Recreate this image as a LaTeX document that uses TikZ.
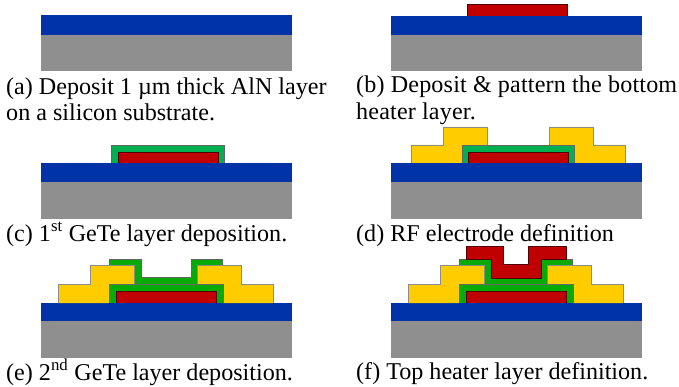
\documentclass[tikz,border=0pt]{standalone}
\usepackage{fontspec}
\setmainfont{Liberation Serif}
\tikzset{
    substrate/.style={fill={rgb,255:red,143;green,143;blue,143}},
    aln/.style={fill={rgb,255:red,0;green,51;blue,168}},
    heater/.style={fill={rgb,255:red,192;green,0;blue,0},draw=black!55!red!70!black,line width=.6pt},
    gete/.style={fill={rgb,255:red,0;green,176;blue,80},draw=black!60,line width=.6pt},
    getetwo/.style={fill={rgb,255:red,8;green,170;blue,8},draw=black!60,line width=.6pt},
    electrode/.style={fill={rgb,255:red,255;green,204;blue,0},draw=black!45,line width=.6pt},
    caption/.style={anchor=base west,inner sep=0pt,font=\fontsize{24.1}{27}\selectfont},
}
\begin{document}
\begin{tikzpicture}[x=1pt,y=-1pt]
    \useasboundingbox (0,0) rectangle (679,387);

    % substrate and AlN of each step
    \foreach \x/\yblue/\ygray/\ybot in {41/15/35/71, 391/16/35/71, 41/163/182/219, 391/163/182/219, 41/303/321/358, 391/303/321/358} {
        \fill[substrate] (\x,\ygray) rectangle +(251,\ybot-\ygray);
        \fill[aln] (\x,\yblue) rectangle +(251,\ygray-\yblue);
    }

    % (b)
    \draw[heater] (467,16) -- (467,4) -- (567,4) -- (567,16);

    % (c)
    \draw[gete] (111,163) -- (111,145) -- (224,145) -- (224,163);
    \draw[heater] (118,163) -- (118,152) -- (218,152) -- (218,163);

    % (d)
    \draw[electrode] (411,163) -- (411,145) -- (443,145) -- (443,127) -- (487,127) -- (487,145) -- (462,145) -- (462,163);
    \draw[electrode] (574,163) -- (574,145) -- (549,145) -- (549,127) -- (593,127) -- (593,145) -- (625,145) -- (625,163);
    \draw[gete] (462,163) -- (462,145) -- (574,145) -- (574,163);
    \draw[heater] (468,163) -- (468,152) -- (568,152) -- (568,163);

    % (e) and (f)
    \foreach \x in {0,350} {
        \begin{scope}[xshift=\x pt]
            \draw[getetwo] (109,259) -- (141,259) -- (141,277) -- (191,277) -- (191,259) -- (222,259) -- (222,265) -- (197,265) -- (197,284) -- (134,284) -- (134,265) -- (109,265) -- cycle;
            \draw[electrode] (58,303) -- (58,284) -- (90,284) -- (90,265) -- (134,265) -- (134,284) -- (109,284) -- (109,303);
            \draw[electrode] (223,303) -- (223,284) -- (197,284) -- (197,265) -- (241,265) -- (241,284) -- (273,284) -- (273,303);
            \draw[getetwo] (109,303) -- (109,284) -- (223,284) -- (223,303);
            \draw[heater] (116,303) -- (116,291) -- (216,291) -- (216,303);
        \end{scope}
    }
    \draw[heater] (466,259) -- (466,246) -- (503,246) -- (503,264) -- (528,264) -- (528,246) -- (566,246) -- (566,259) -- (541,259) -- (541,278) -- (491,278) -- (491,259) -- cycle;

    \node[caption] (capa) at (6,95) {(a) Deposit 1 µm thick AlN layer};
    \node[caption] (capaa) at (6,121) {on a silicon substrate.};
    \node[caption] (capb) at (356,93) {\addfontfeature{LetterSpace=0.7}(b) Deposit \& pattern the bottom};
    \node[caption] (capbb) at (356,120) {\addfontfeature{LetterSpace=0.7}heater layer.};
    \node[caption] (capc) at (6,241) {(c) 1\textsuperscript{st} GeTe layer deposition.};
    \node[caption] (capd) at (356,241) {(d) RF electrode definition};
    \node[caption] (cape) at (6,380) {(e) 2\textsuperscript{nd} GeTe layer deposition.};
    \node[caption] (capf) at (356,379) {(f) Top heater layer definition.};
\end{tikzpicture}
\end{document}
